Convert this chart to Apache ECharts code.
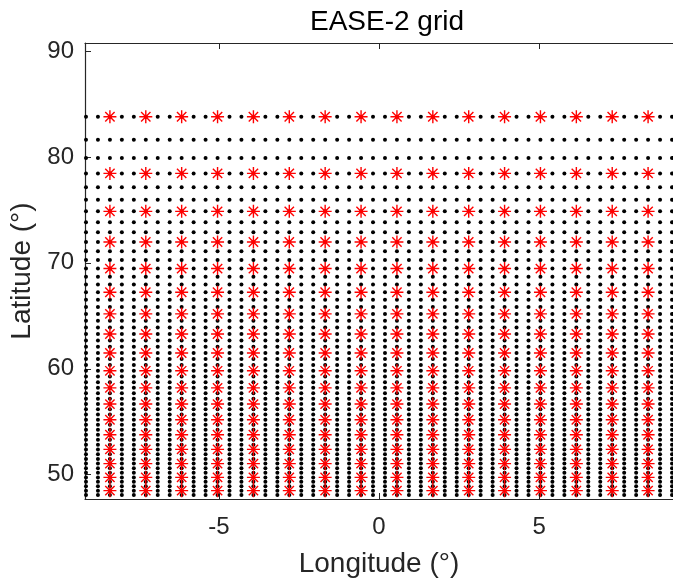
<!DOCTYPE html>
<html>
<head>
<meta charset="utf-8">
<script src="https://cdn.jsdelivr.net/npm/echarts@6/dist/echarts.min.js"></script>
<style>
  html, body { margin: 0; padding: 0; background: #fff; }
  #grid { width: 673px; height: 583px; }
</style>
</head>
<body>
<div id="grid"></div>
<script>
var myChartgrid = echarts.init(document.getElementById('grid'));

// fine grid (black dots): column longitudes and row latitudes
var fineLon = [-9.149, -8.776, -8.402, -8.029, -7.655, -7.282, -6.909, -6.535, -6.162, -5.788,
    -5.415, -5.041, -4.668, -4.295, -3.921, -3.548, -3.174, -2.801, -2.427, -2.054,
    -1.681, -1.307, -0.934, -0.560, -0.187, 0.187, 0.560, 0.934, 1.307, 1.681,
    2.054, 2.427, 2.801, 3.174, 3.548, 3.921, 4.295, 4.668, 5.041, 5.415,
    5.788, 6.162, 6.535, 6.909, 7.282, 7.655, 8.029, 8.402, 8.776, 9.149];
var fineLat = [83.79, 81.62, 79.90, 78.44, 77.14, 75.95, 74.86, 73.84, 72.88, 71.97,
    71.10, 70.26, 69.46, 68.69, 67.95, 67.22, 66.52, 65.84, 65.18, 64.53,
    63.90, 63.28, 62.67, 62.08, 61.49, 60.92, 60.36, 59.81, 59.27, 58.73,
    58.20, 57.69, 57.17, 56.67, 56.17, 55.68, 55.19, 54.71, 54.24, 53.77,
    53.30, 52.84, 52.39, 51.94, 51.49, 51.05, 50.61, 50.18, 49.75, 49.33,
    48.92, 48.50, 48.09];

// coarse grid (red asterisks)
var coarseLon = [-8.402, -7.282, -6.162, -5.041, -3.921, -2.801, -1.681, -0.560,
    0.560, 1.681, 2.801, 3.921, 5.041, 6.162, 7.282, 8.402];
var coarseLat = [83.79, 78.44, 74.86, 71.97, 69.46, 67.22, 65.18, 63.28, 61.49,
    59.81, 58.20, 56.67, 55.19, 53.77, 52.39, 51.05, 49.75, 48.50];

var xTicks = [-5, 0, 5];
var yTicks = [50, 60, 70, 80, 90];

function cross(lons, lats) {
    var out = [];
    for (var i = 0; i < lons.length; i++) {
        for (var j = 0; j < lats.length; j++) {
            out.push([lons[i], lats[j]]);
        }
    }
    return out;
}

var axisColor = '#262626';
var font = '"Liberation Sans", Arial, Helvetica, sans-serif';
var star = 'path://M0,-10L0,10M-10,0L10,0M-7.2,-7.2L7.2,7.2M-7.2,7.2L7.2,-7.2';

option = {
    animation: false,
    textStyle: { fontFamily: font },
    grid: { left: 85, top: 43, width: 597, height: 458 },
    xAxis: [{
        type: 'value',
        min: -9.18,
        max: 9.18,
        position: 'bottom',
        splitLine: { show: false },
        axisLine: { onZero: false, lineStyle: { color: axisColor, width: 1.2 } },
        axisTick: { inside: true, length: 6, customValues: xTicks, lineStyle: { color: axisColor } },
        axisLabel: { customValues: xTicks, color: axisColor, fontSize: 24, margin: 16, fontFamily: font },
        name: 'Longitude (°)',
        nameLocation: 'middle',
        nameGap: 51,
        nameTextStyle: { color: axisColor, fontSize: 28, fontFamily: font }
    }, {
        type: 'value',
        min: -9.18,
        max: 9.18,
        position: 'top',
        splitLine: { show: false },
        axisLine: { onZero: false, lineStyle: { color: axisColor, width: 1.2 } },
        axisTick: { inside: true, length: 6, customValues: xTicks, lineStyle: { color: axisColor } },
        axisLabel: { show: false }
    }],
    yAxis: {
        type: 'value',
        min: 47.71,
        max: 90.75,
        splitLine: { show: false },
        axisLine: { onZero: false, lineStyle: { color: axisColor, width: 1.2 } },
        axisTick: { inside: true, length: 6, customValues: yTicks, lineStyle: { color: axisColor } },
        axisLabel: { customValues: yTicks, color: axisColor, fontSize: 24, margin: 11, fontFamily: font },
        name: 'Latitude (°)',
        nameLocation: 'middle',
        nameGap: 45,
        nameTextStyle: { color: axisColor, fontSize: 28, fontFamily: font }
    },
    graphic: [{
        type: 'text',
        x: 387,
        y: 22,
        style: {
            text: 'EASE-2 grid',
            fill: '#000',
            font: '28px ' + font,
            align: 'center',
            verticalAlign: 'middle'
        }
    }],
    series: [
        {
            name: 'fine',
            type: 'scatter',
            xAxisIndex: 0,
            symbol: 'circle',
            symbolSize: 4,
            itemStyle: { color: '#000', opacity: 1 },
            data: cross(fineLon, fineLat)
        },
        {
            name: 'coarse',
            type: 'scatter',
            xAxisIndex: 0,
            symbol: star,
            symbolSize: 13,
            itemStyle: { color: 'rgba(0,0,0,0)', borderColor: '#ff0000', borderWidth: 1.4, opacity: 1 },
            data: cross(coarseLon, coarseLat)
        }
    ]
};

myChartgrid.setOption(option);
</script>
</body>
</html>
